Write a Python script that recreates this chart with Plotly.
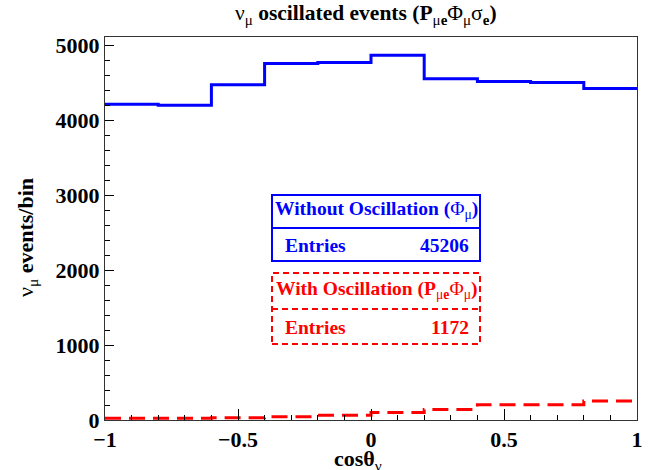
import plotly.graph_objects as go

# ---- data ----
bin_edges = [-1.0, -0.8, -0.6, -0.4, -0.2, 0.0, 0.2, 0.4, 0.6, 0.8, 1.0]
no_osc = [4216, 4203, 4475, 4760, 4773, 4870, 4555, 4519, 4506, 4426]
with_osc = [25, 25, 30, 45, 65, 100, 140, 205, 205, 252]
entries_no_osc = 45206
entries_osc = 1172
y_ticks = [0, 1000, 2000, 3000, 4000, 5000]
x_ticks = [-1, -0.5, 0, 0.5, 1]
x_tick_text = ["\u22121", "\u22120.5", "0", "0.5", "1"]
y_max = 5113

W, H = 649, 470
L, R, T, B = 105, 637, 37, 420
FONT = "Liberation Serif"


def px(xp):
    return (xp - L) / (R - L)


def py(yp):
    return (B - yp) / (B - T)


fig = go.Figure()
fig.add_trace(go.Scatter(
    x=bin_edges, y=no_osc + [no_osc[-1]], mode="lines", line_shape="hv",
    line=dict(color="#0000ff", width=3), showlegend=False, hoverinfo="skip"))
fig.add_trace(go.Scatter(
    x=bin_edges, y=with_osc + [with_osc[-1]], mode="lines", line_shape="hv",
    line=dict(color="#ff0000", width=3, dash="16px,8px"), showlegend=False,
    hoverinfo="skip"))

axis_common = dict(showgrid=False, zeroline=False, showline=True, linecolor="#333333",
                   linewidth=1, mirror=True, ticks="inside", tickcolor="black",
                   automargin=False,
                   tickfont=dict(family=FONT, size=22, color="black", weight="bold"))

fig.update_xaxes(range=[-1, 1], tickvals=x_ticks, ticktext=x_tick_text, ticklen=11,
                 minor=dict(dtick=0.1, ticklen=5, ticks="inside", tickcolor="black"),
                 **axis_common)
fig.update_yaxes(range=[0, y_max], tickvals=y_ticks, ticklen=9,
                 minor=dict(dtick=200, ticklen=5, ticks="inside", tickcolor="black"),
                 **axis_common)

annotations = []
# title
annotations.append(dict(
    text="ν<sub>μ</sub><b> oscillated events (P</b><sub>μ<b>e</b></sub>Φ<sub>μ</sub>σ<sub><b>e</b></sub><b>)</b>",
    x=px(366), y=py(15), xref="paper", yref="paper", showarrow=False,
    xanchor="center", yanchor="middle", font=dict(family=FONT, size=21.5, color="black")))
# x title
annotations.append(dict(
    text="<b>cosθ</b><sub>ν</sub>", x=px(358), y=py(460), xref="paper", yref="paper",
    showarrow=False, xanchor="center", yanchor="middle",
    font=dict(family=FONT, size=22, color="black")))
# y title
annotations.append(dict(
    text="ν<sub>μ</sub><b> events/bin</b>", x=px(27), y=py(238), xref="paper", yref="paper",
    showarrow=False, xanchor="center", yanchor="middle", textangle=-90,
    font=dict(family=FONT, size=22, color="black")))

shapes = []
# blue stats box
bx0, bx1 = 272, 480
shapes.append(dict(type="rect", xref="paper", yref="paper", x0=px(bx0), x1=px(bx1),
                   y0=py(261), y1=py(195), line=dict(color="#0000ff", width=2),
                   fillcolor="white"))
shapes.append(dict(type="line", xref="paper", yref="paper", x0=px(bx0), x1=px(bx1),
                   y0=py(228), y1=py(228), line=dict(color="#0000ff", width=2)))
# red stats box
shapes.append(dict(type="rect", xref="paper", yref="paper", x0=px(bx0), x1=px(bx1),
                   y0=py(344), y1=py(273), line=dict(color="#ff0000", width=2, dash="6px,4px"),
                   fillcolor="white"))
shapes.append(dict(type="line", xref="paper", yref="paper", x0=px(bx0), x1=px(bx1),
                   y0=py(309), y1=py(309), line=dict(color="#ff0000", width=2, dash="6px,4px")))

for text, yc, col in [
    ("<b>Without Oscillation (</b>Φ<sub>μ</sub><b>)</b>", 210, "#0000ff"),
    ("<b>With Oscillation (P</b><sub>μ<b>e</b></sub>Φ<sub>μ</sub><b>)</b>", 290, "#ff0000"),
]:
    annotations.append(dict(text=text, x=px(376), y=py(yc), xref="paper", yref="paper",
                            showarrow=False, xanchor="center", yanchor="middle",
                            font=dict(family=FONT, size=19.5, color=col)))

for yc, val, col in [(245, entries_no_osc, "#0000ff"), (327, entries_osc, "#ff0000")]:
    annotations.append(dict(text="<b>Entries</b>", x=px(283), y=py(yc), xref="paper",
                            yref="paper", showarrow=False, xanchor="left", yanchor="middle",
                            font=dict(family=FONT, size=19.5, color=col)))
    annotations.append(dict(text=f"<b>{val}</b>", x=px(471), y=py(yc), xref="paper",
                            yref="paper", showarrow=False, xanchor="right", yanchor="middle",
                            font=dict(family=FONT, size=19.5, color=col)))

fig.update_layout(width=W, height=H, margin=dict(l=L, r=W - R, t=T, b=H - B),
                  paper_bgcolor="white", plot_bgcolor="white",
                  annotations=annotations, shapes=shapes)

fig.write_html("out.html")
